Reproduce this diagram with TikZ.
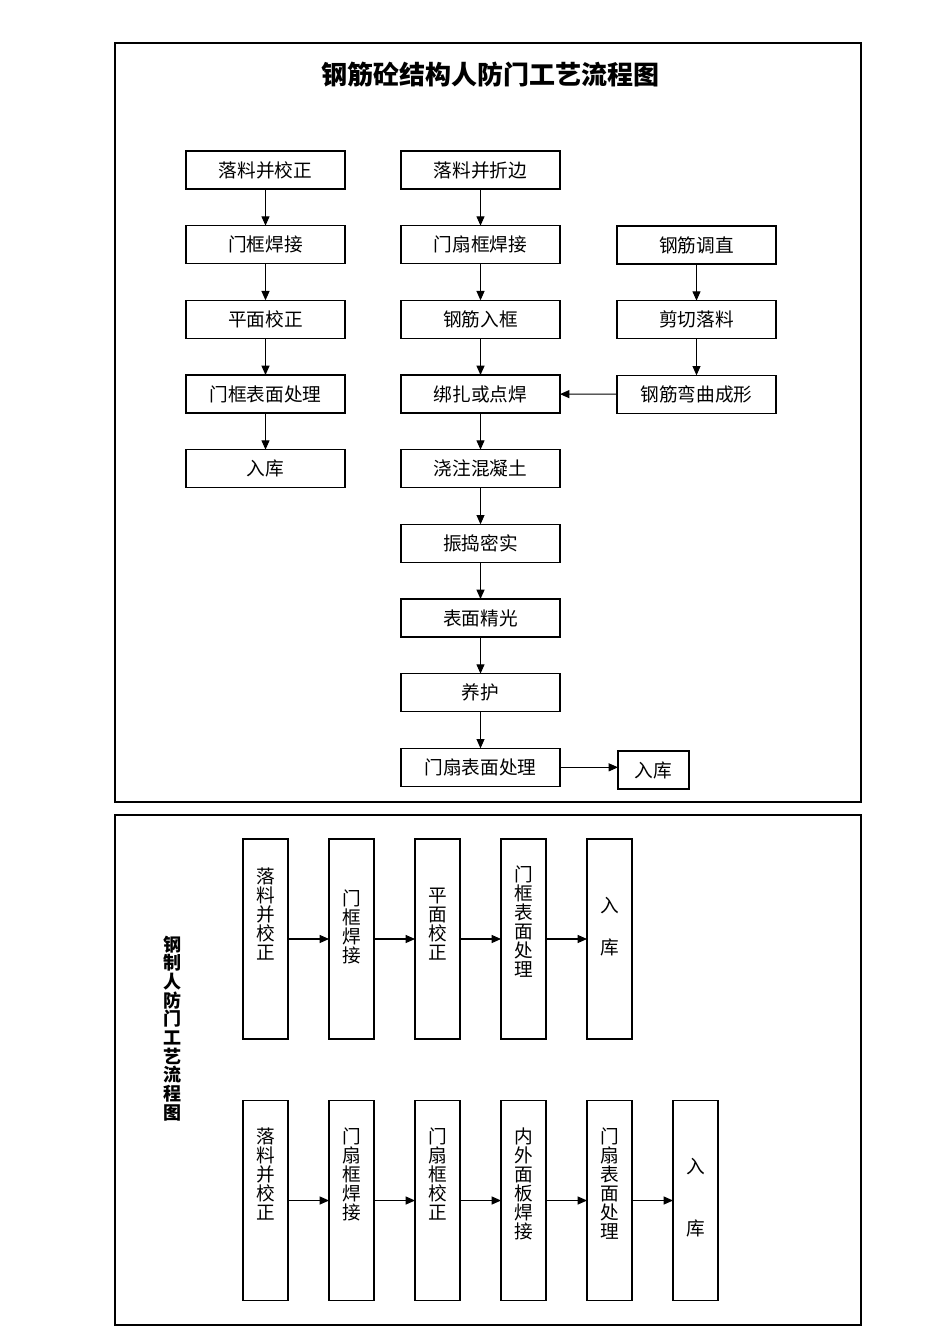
\documentclass[tikz,border=0pt]{standalone}
\usepackage{fontspec}
\setmainfont{Noto Sans CJK SC}
\usetikzlibrary{positioning,arrows.meta}

\tikzset{
  box/.style={draw, line width=0.8pt, minimum width=119.25pt, minimum height=28.5pt, inner sep=0pt, outer sep=0pt, font=\fontsize{14}{14}\selectfont},
  vbox/.style={draw, line width=0.8pt, minimum width=33.75pt, minimum height=150pt, inner sep=0pt, outer sep=0pt},
  vtext/.style={inner sep=0pt, align=center, font=\fontsize{14}{14.25}\selectfont},
  arr/.style={-{Triangle[length=7pt,width=6pt]}, line width=0.8pt},
}

\begin{document}
\begin{tikzpicture}[x=0.75pt, y=-0.75pt, node distance=27.5pt]
\useasboundingbox (0,0) rectangle (950,1344);

% frames %
\draw[line width=0.8pt] (115,43) rectangle (861,802);
\draw[line width=0.8pt] (115,815) rectangle (861,1325);

\node[font=\bfseries\fontsize{19.5}{19.5}\selectfont] (title) at (490,75) {钢筋砼结构人防门工艺流程图};

% nodes %
\node[box] (a1) at (265.5,170) {落料并校正};
\node[box, below=of a1] (a2) {门框焊接};
\node[box, below=of a2] (a3) {平面校正};
\node[box, below=of a3] (a4) {门框表面处理};
\node[box, below=of a4] (a5) {入库};

\node[box] (b1) at (480.5,170) {落料并折边};
\node[box, below=of b1] (b2) {门扇框焊接};
\node[box, below=of b2] (b3) {钢筋入框};
\node[box, below=of b3] (b4) {绑扎或点焊};
\node[box, below=of b4] (b5) {浇注混凝土};
\node[box, below=of b5] (b6) {振捣密实};
\node[box, below=of b6] (b7) {表面精光};
\node[box, below=of b7] (b8) {养护};
\node[box, below=of b8] (b9) {门扇表面处理};

\node[box] (c1) at (696.5,245) {钢筋调直};
\node[box, below=of c1] (c2) {剪切落料};
\node[box, below=of c2] (c3) {钢筋弯曲成形};

\node[box, minimum width=53.25pt] (ruku) at (653.5,770) {入库};

% edges %
\draw[arr] (a1) -- (a2);
\draw[arr] (a2) -- (a3);
\draw[arr] (a3) -- (a4);
\draw[arr] (a4) -- (a5);
\draw[arr] (b1) -- (b2);
\draw[arr] (b2) -- (b3);
\draw[arr] (b3) -- (b4);
\draw[arr] (b4) -- (b5);
\draw[arr] (b5) -- (b6);
\draw[arr] (b6) -- (b7);
\draw[arr] (b7) -- (b8);
\draw[arr] (b8) -- (b9);
\draw[arr] (c1) -- (c2);
\draw[arr] (c2) -- (c3);
\draw[arr] (c3) -- (b4);
\draw[arr] (b9.east) -- (b9.east -| ruku.west);

% steel door %
\node[align=center, inner sep=0pt, font=\bfseries\fontsize{13.5}{14}\selectfont] (title2) at (172,1028.5)
  {钢\\制\\人\\防\\门\\工\\艺\\流\\程\\图};

\node[vbox] (p1) at (265.5,939) {};
\node[vbox, right=30.75pt of p1] (p2) {};
\node[vbox, right=30.75pt of p2] (p3) {};
\node[vbox, right=30.75pt of p3] (p4) {};
\node[vbox, right=30.75pt of p4] (p5) {};

\node[vtext, below=21.75pt of p1.north] (tp1) {落\\料\\并\\校\\正};
\node[vtext, below=38.25pt of p2.north] (tp2) {门\\框\\焊\\接};
\node[vtext, below=36.75pt of p3.north] (tp3) {平\\面\\校\\正};
\node[vtext, below=20.25pt of p4.north] (tp4) {门\\框\\表\\面\\处\\理};
\node[vtext, below=43.5pt of p5.north] (tp5) {入\\[17.25pt]库};

\node[vbox] (q1) at (265.5,1200.5) {};
\node[vbox, right=30.75pt of q1] (q2) {};
\node[vbox, right=30.75pt of q2] (q3) {};
\node[vbox, right=30.75pt of q3] (q4) {};
\node[vbox, right=30.75pt of q4] (q5) {};
\node[vbox, right=30.75pt of q5] (q6) {};

\node[vtext, below=20.25pt of q1.north] (tq1) {落\\料\\并\\校\\正};
\node[vtext, below=20.25pt of q2.north] (tq2) {门\\扇\\框\\焊\\接};
\node[vtext, below=20.25pt of q3.north] (tq3) {门\\扇\\框\\校\\正};
\node[vtext, below=20.25pt of q4.north] (tq4) {内\\外\\面\\板\\焊\\接};
\node[vtext, below=20.25pt of q5.north] (tq5) {门\\扇\\表\\面\\处\\理};
\node[vtext, below=42.75pt of q6.north] (tq6) {入\\[32.25pt]库};

\draw[arr] (p1) -- (p2);
\draw[arr] (p2) -- (p3);
\draw[arr] (p3) -- (p4);
\draw[arr] (p4) -- (p5);
\draw[arr] (q1) -- (q2);
\draw[arr] (q2) -- (q3);
\draw[arr] (q3) -- (q4);
\draw[arr] (q4) -- (q5);
\draw[arr] (q5) -- (q6);

\end{tikzpicture}
\end{document}
